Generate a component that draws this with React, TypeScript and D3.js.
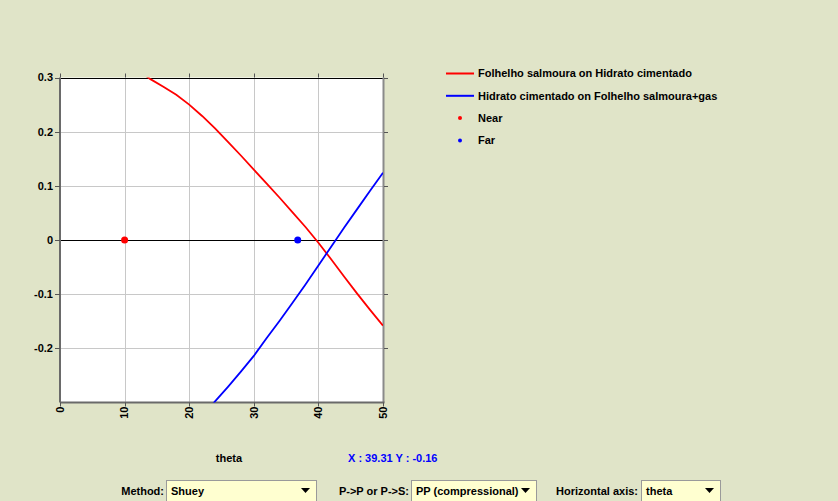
import React from "react";
import * as d3 from "d3";

// Reflection coefficient vs. incidence angle (theta, degrees)
const redTheta = [12, 14, 16, 18, 20, 22, 24, 26, 28, 30, 32, 34, 36, 38, 40, 42, 44, 46, 48, 50];
const redValues = [0.314, 0.297, 0.283, 0.268, 0.25, 0.229, 0.206, 0.181, 0.156, 0.13, 0.104, 0.078, 0.051, 0.024, -0.005, -0.036, -0.068, -0.099, -0.129, -0.158];
const blueTheta = [23, 24, 26, 28, 30, 32, 34, 36, 38, 40, 42, 44, 46, 48, 50];
const blueValues = [-0.312, -0.298, -0.271, -0.243, -0.214, -0.181, -0.149, -0.116, -0.082, -0.047, -0.012, 0.023, 0.057, 0.091, 0.124];
const nearPoint = { theta: 10, value: 0 };
const farPoint = { theta: 36.8, value: 0 };

const xTicks = [0, 10, 20, 30, 40, 50];
const yTicks = [-0.2, -0.1, 0, 0.1, 0.2, 0.3];
const legendItems = [
  { label: "Folhelho salmoura on Hidrato cimentado", color: "#ff0000", kind: "line" },
  { label: "Hidrato cimentado on Folhelho salmoura+gas", color: "#0000ff", kind: "line" },
  { label: "Near", color: "#ff0000", kind: "dot" },
  { label: "Far", color: "#0000ff", kind: "dot" },
];

const W = 838;
const H = 501;
const BG = "#e0e4c8";
const FONT = "'Liberation Sans', Arial, sans-serif";

export default function App() {
  const left = 60;
  const right = 383;
  const top = 77.5;
  const bottom = 402.5;
  const x = d3.scaleLinear().domain([0, 50]).range([left, right]);
  const y = d3.scaleLinear().domain([-0.3, 0.3]).range([bottom, top]);

  const line = d3
    .line<[number, number]>()
    .x((d) => x(d[0]))
    .y((d) => y(d[1]));

  const redPath = line(redTheta.map((t, i) => [t, redValues[i]]) as [number, number][]) || "";
  const bluePath = line(blueTheta.map((t, i) => [t, blueValues[i]]) as [number, number][]) || "";

  const combo = (bx: number, bw: number, text: string) => (
    <g>
      <rect x={bx + 0.5} y={480.5} width={bw} height={22} fill="#ffffd0" stroke="#9a9a9a" />
      <text x={bx + 5} y={495} fontSize={11} fontWeight="bold" fill="#000">
        {text}
      </text>
      <path
        d={`M${bx + bw - 15},${488} L${bx + bw - 6},${488} L${bx + bw - 10.5},${493} Z`}
        fill="#000"
      />
    </g>
  );

  return (
    <div style={{ position: "absolute", left: 0, top: 0 }}>
      <svg width={W} height={H} style={{ display: "block", fontFamily: FONT }}>
        <rect width={W} height={H} fill={BG} />
        <defs>
          <clipPath id="plotClip">
            <rect x={left} y={top} width={right - left} height={bottom - top} />
          </clipPath>
        </defs>

        {/* plot area */}
        <rect x={left} y={top} width={right - left} height={bottom - top} fill="#ffffff" />

        {/* grid */}
        {xTicks
          .filter((t) => t > 0 && t < 50)
          .map((t) => (
            <line key={`gx${t}`} x1={Math.round(x(t)) + 0.5} x2={Math.round(x(t)) + 0.5} y1={top} y2={bottom} stroke="#c8c8c8" />
          ))}
        {yTicks
          .filter((t) => t !== 0 && t < 0.3)
          .map((t) => (
            <line key={`gy${t}`} x1={left} x2={right} y1={Math.round(y(t)) + 0.5} y2={Math.round(y(t)) + 0.5} stroke="#c8c8c8" />
          ))}
        {/* zero line */}
        <line x1={left} x2={right} y1={Math.round(y(0)) + 0.5} y2={Math.round(y(0)) + 0.5} stroke="#000" />

        {/* frame */}
        <line x1={left} x2={right} y1={Math.round(top) + 0.5} y2={Math.round(top) + 0.5} stroke="#000" />
        <line x1={right + 0.5} x2={right + 0.5} y1={top} y2={bottom} stroke="#8a8a8a" strokeWidth={2} />
        <line x1={left} x2={left} y1={top} y2={bottom} stroke="#6a6a6a" strokeWidth={2} />
        <line x1={left} x2={right + 1.5} y1={bottom} y2={bottom} stroke="#6a6a6a" strokeWidth={2} />

        {/* tick marks */}
        {yTicks.map((t) => (
          <g key={`ty${t}`}>
            <line x1={left - 5} x2={left} y1={Math.round(y(t)) + 0.5} y2={Math.round(y(t)) + 0.5} stroke="#555" />
            <line x1={right + 1} x2={right + 5} y1={Math.round(y(t)) + 0.5} y2={Math.round(y(t)) + 0.5} stroke="#555" />
            <text x={left - 7} y={y(t)} dy="0.35em" textAnchor="end" fontSize={11} fontWeight="bold" fill="#000">
              {String(t)}
            </text>
          </g>
        ))}
        {xTicks.map((t) => (
          <g key={`tx${t}`}>
            <line x1={Math.round(x(t)) + 0.5} x2={Math.round(x(t)) + 0.5} y1={top - 4} y2={top} stroke="#555" />
            <line x1={Math.round(x(t)) + 0.5} x2={Math.round(x(t)) + 0.5} y1={bottom} y2={bottom + 4} stroke="#555" />
            <text
              transform={`translate(${x(t)},${bottom + 4}) rotate(-90)`}
              dy="0.35em"
              textAnchor="end"
              fontSize={11}
              fontWeight="bold"
              fill="#000"
            >
              {t}
            </text>
          </g>
        ))}

        {/* series */}
        <g clipPath="url(#plotClip)">
          <path d={redPath} fill="none" stroke="#ff0000" strokeWidth={1.8} />
          <path d={bluePath} fill="none" stroke="#0000ff" strokeWidth={1.8} />
          <circle cx={x(nearPoint.theta)} cy={y(nearPoint.value)} r={3.5} fill="#ff0000" />
          <circle cx={x(farPoint.theta)} cy={y(farPoint.value)} r={3.5} fill="#0000ff" />
        </g>

        {/* legend */}
        {legendItems.map((item, i) => {
          const ly = 73.5 + i * 22.3;
          return (
            <g key={item.label}>
              {item.kind === "line" ? (
                <line x1={446} x2={474} y1={ly} y2={ly} stroke={item.color} strokeWidth={2} />
              ) : (
                <circle cx={460} cy={ly} r={2} fill={item.color} />
              )}
              <text x={478} y={ly} dy="0.35em" fontSize={11} fontWeight="bold" fill="#000">
                {item.label}
              </text>
            </g>
          );
        })}

        {/* axis title and cursor readout */}
        <text x={229} y={462} textAnchor="middle" fontSize={11} fontWeight="bold" fill="#000">
          theta
        </text>
        <text x={348} y={462} fontSize={11} fontWeight="bold" fill="#0000ff">
          X : 39.31  Y : -0.16
        </text>

        {/* controls */}
        <text x={164} y={495} textAnchor="end" fontSize={11} fontWeight="bold" fill="#000">
          Method:
        </text>
        {combo(166, 150, "Shuey")}
        <text x={409} y={495} textAnchor="end" fontSize={11} fontWeight="bold" fill="#000">
          P-&gt;P or P-&gt;S:
        </text>
        {combo(411, 125, "PP (compressional)")}
        <text x={638} y={495} textAnchor="end" fontSize={11} fontWeight="bold" fill="#000">
          Horizontal axis:
        </text>
        {combo(641, 79, "theta")}
      </svg>
    </div>
  );
}
